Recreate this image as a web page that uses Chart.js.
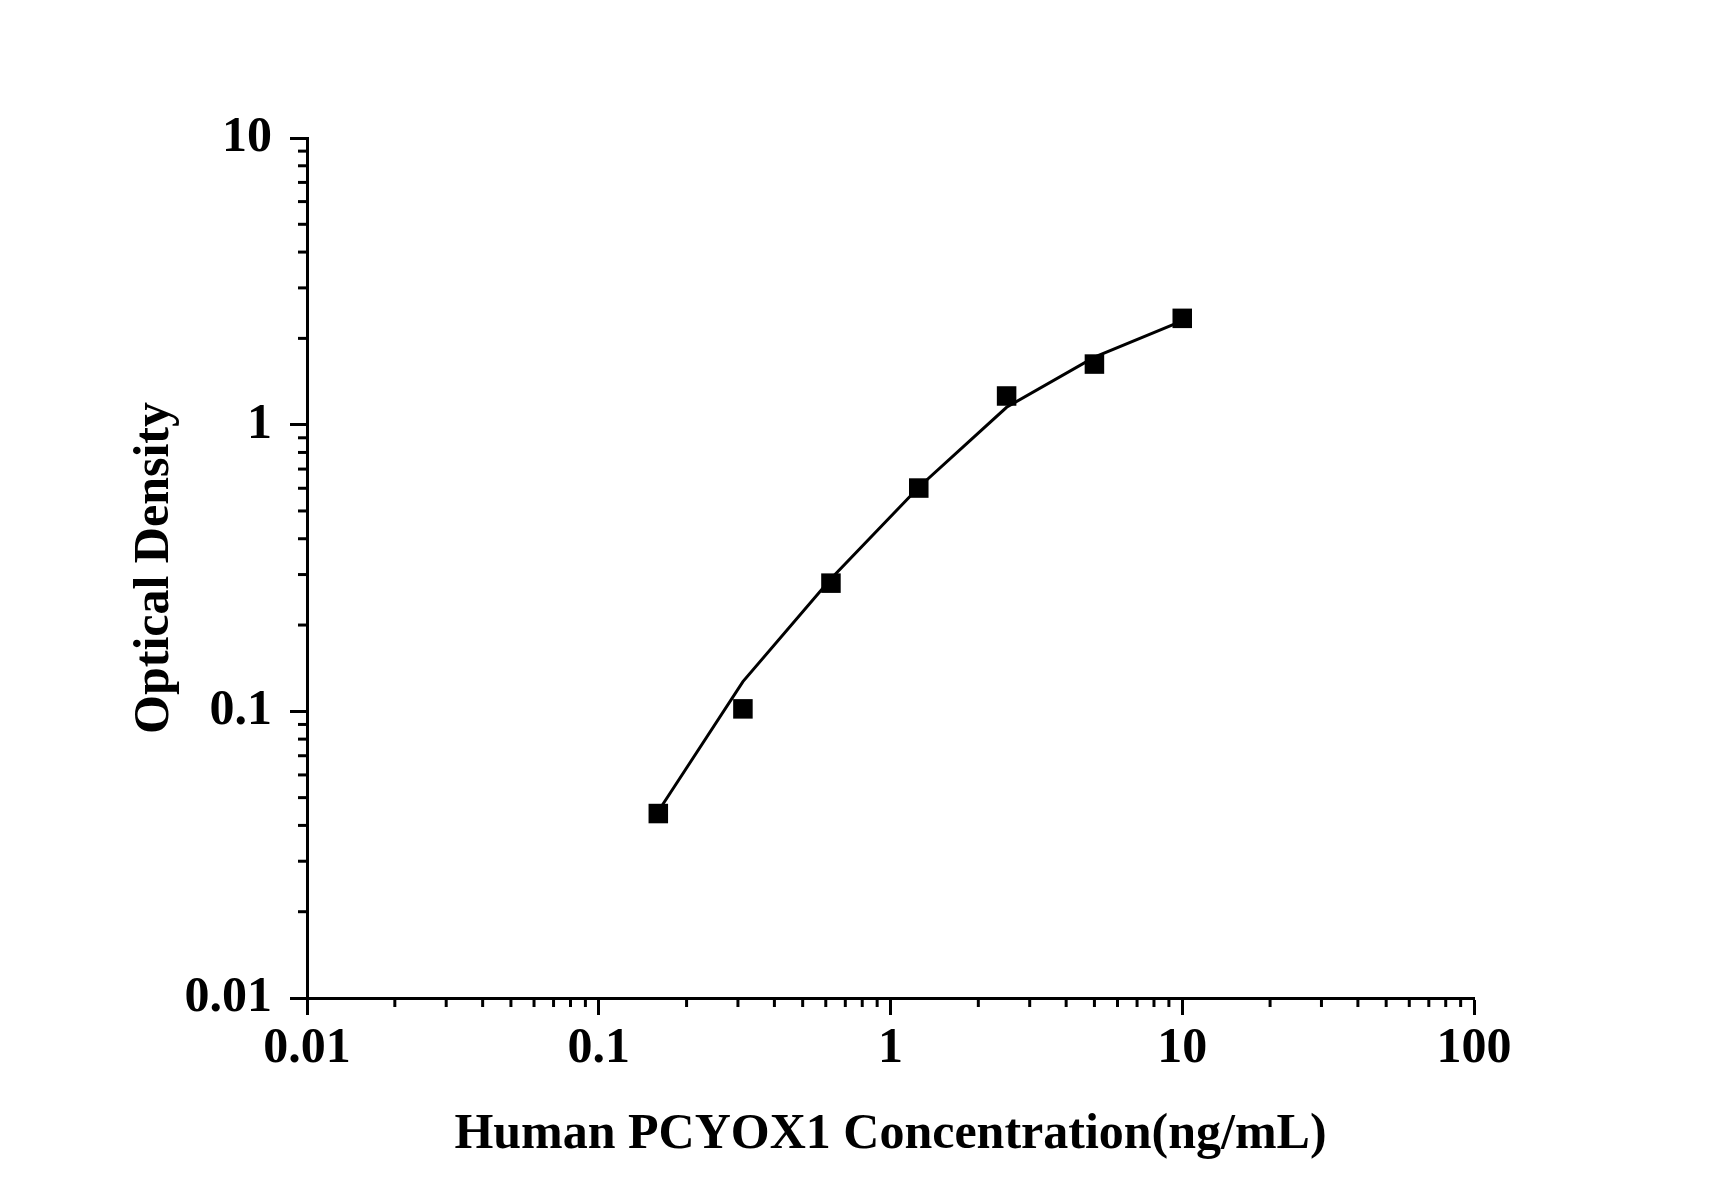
<!DOCTYPE html>
<html>
<head>
<meta charset="utf-8">
<script src="https://cdn.jsdelivr.net/npm/chart.js@4"></script>
<style>
  html, body { margin: 0; padding: 0; background: #ffffff; }
  #wrap { width: 1712px; height: 1196px; position: relative; }
</style>
</head>
<body>
<div id="wrap"><canvas id="c" width="1712" height="1196"></canvas></div>
<script>
// ---- data ----
const concentrations = [0.16, 0.312, 0.625, 1.25, 2.5, 5, 10];
const odValues       = [0.044, 0.102, 0.280, 0.601, 1.259, 1.627, 2.349];
const fitValues      = [0.0448, 0.127, 0.29, 0.605, 1.15, 1.72, 2.3];
const xTickLabels = ['0.01', '0.1', '1', '10', '100'];
const yTickLabels = ['0.01', '0.1', '1', '10'];
const xTitle = 'Human PCYOX1 Concentration(ng/mL)';
const yTitle = 'Optical Density';

// ---- styling ----
const FONT = { family: '"Liberation Serif", "Times New Roman", serif', size: 50, weight: 'bold', lineHeight: 1.2 };
const MAJOR_LEN = 17;
const MINOR_LEN = 9;

function decadeTicks(labels) {
  const ticks = [];
  const vals = labels.map(Number);
  for (let i = 0; i < vals.length; i++) {
    ticks.push({ value: vals[i], major: true });
    if (i < vals.length - 1) {
      for (let m = 2; m <= 9; m++) ticks.push({ value: +(vals[i] * m).toPrecision(6), major: false });
    }
  }
  return ticks;
}

const minorTickPlugin = {
  id: 'minorTicks',
  afterDraw(chart) {
    const ctx = chart.ctx;
    const xs = chart.scales.x, ys = chart.scales.y;
    ctx.save();
    ctx.strokeStyle = '#000';
    ctx.lineWidth = 3;
    xs.ticks.forEach(t => {
      if (t.major) return;
      const px = xs.getPixelForValue(t.value);
      ctx.beginPath(); ctx.moveTo(px, xs.top); ctx.lineTo(px, xs.top + MINOR_LEN); ctx.stroke();
    });
    ys.ticks.forEach(t => {
      if (t.major) return;
      const py = ys.getPixelForValue(t.value);
      ctx.beginPath(); ctx.moveTo(ys.right, py); ctx.lineTo(ys.right - MINOR_LEN, py); ctx.stroke();
    });
    ctx.restore();
  }
};

const pointsData = concentrations.map((x, i) => ({ x, y: odValues[i] }));
const fitData = concentrations.map((x, i) => ({ x, y: fitValues[i] }));

new Chart(document.getElementById('c'), {
  type: 'scatter',
  data: {
    datasets: [
      {
        label: 'OD',
        data: pointsData,
        showLine: false,
        pointStyle: 'rect',
        pointRadius: 13.8,
        pointBorderWidth: 0,
        backgroundColor: '#000',
        borderColor: '#000',
        order: 0
      },
      {
        label: 'Fit',
        data: fitData,
        showLine: true,
        borderColor: '#000',
        borderWidth: 3,
        pointRadius: 0,
        tension: 0,
        fill: false,
        order: 1
      }
    ]
  },
  options: {
    responsive: false,
    animation: false,
    devicePixelRatio: 1,
    layout: { padding: { top: 138, right: 238, left: 0, bottom: 0 } },
    plugins: { legend: { display: false }, tooltip: { enabled: false } },
    scales: {
      x: {
        type: 'logarithmic',
        min: 0.01,
        max: 100,
        afterBuildTicks: s => { s.ticks = decadeTicks(xTickLabels); },
        afterFit: s => { s.height = 198; },
        border: { display: true, color: '#000', width: 3 },
        grid: {
          drawOnChartArea: false,
          drawTicks: true,
          tickLength: MAJOR_LEN,
          tickWidth: 3,
          tickColor: c => (c.tick && c.tick.major) ? '#000' : 'rgba(0,0,0,0)'
        },
        ticks: {
          autoSkip: false,
          maxRotation: 0,
          minRotation: 0,
          padding: 4,
          color: '#000',
          font: FONT,
          callback: v => { const i = xTickLabels.map(Number).indexOf(v); return i >= 0 ? xTickLabels[i] : ''; }
        },
        title: {
          display: true,
          text: xTitle,
          color: '#000',
          font: FONT,
          padding: { top: 0, bottom: 31 }
        }
      },
      y: {
        type: 'logarithmic',
        min: 0.01,
        max: 10,
        afterBuildTicks: s => { s.ticks = decadeTicks(yTickLabels); },
        afterFit: s => { s.width = 307; },
        border: { display: true, color: '#000', width: 3 },
        grid: {
          drawOnChartArea: false,
          drawTicks: true,
          tickLength: MAJOR_LEN,
          tickWidth: 3,
          tickColor: c => (c.tick && c.tick.major) ? '#000' : 'rgba(0,0,0,0)'
        },
        ticks: {
          autoSkip: false,
          padding: 18,
          color: '#000',
          font: FONT,
          callback: v => { const i = yTickLabels.map(Number).indexOf(v); return i >= 0 ? yTickLabels[i] : ''; }
        },
        title: {
          display: true,
          text: yTitle,
          color: '#000',
          font: FONT,
          padding: { top: 125, bottom: 0 }
        }
      }
    }
  },
  plugins: [minorTickPlugin]
});
</script>
</body>
</html>
